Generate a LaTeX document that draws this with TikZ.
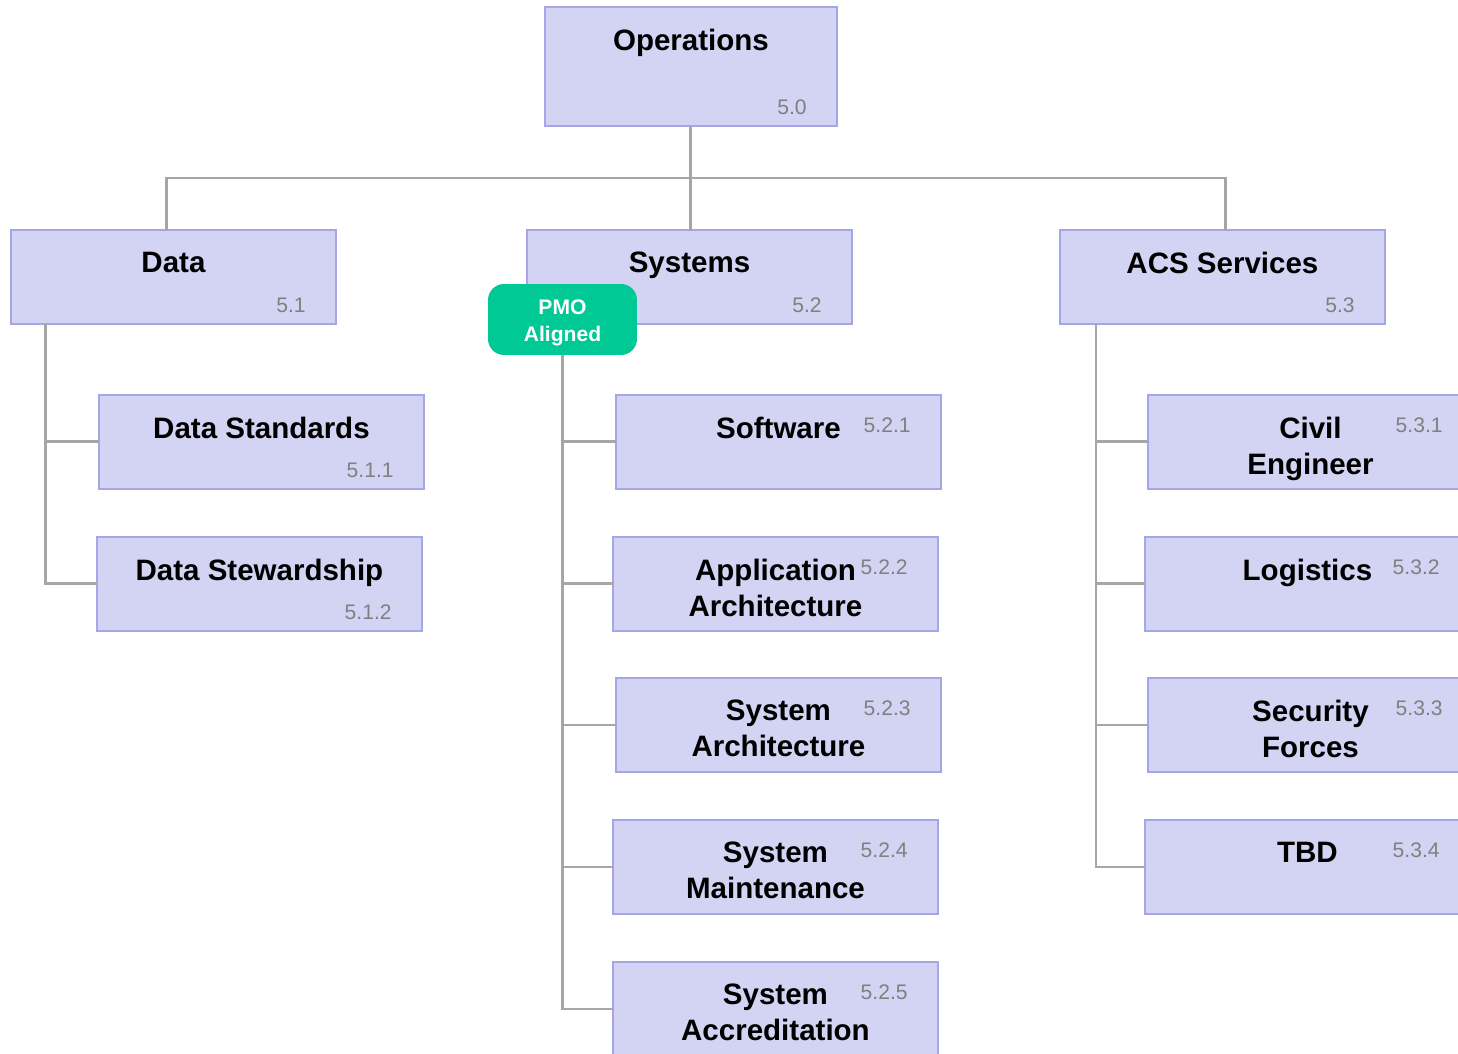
\documentclass[tikz,border=0pt]{standalone}
\usepackage{fontspec}
\setmainfont{Liberation Sans}
\usepackage{xcolor}
\usetikzlibrary{positioning}

\definecolor{boxfill}{RGB}{211,211,243}
\definecolor{boxline}{RGB}{165,165,232}
\definecolor{linkgray}{RGB}{166,166,166}
\definecolor{pmogreen}{RGB}{0,201,150}
\definecolor{numgray}{RGB}{128,128,128}

\begin{document}
\begin{tikzpicture}[x=0.02cm, y=-0.02cm,
  wbs/.style={draw=boxline, fill=boxfill, line width=1.6pt, anchor=north west,
    inner sep=0pt, outer sep=0pt, minimum width=6.5cm, minimum height=1.88cm},
  title/.style={font=\fontsize{16.8}{20.4}\selectfont\bfseries, align=center, inner sep=0pt},
  num/.style={font=\fontsize{12}{14}\selectfont, text=numgray, inner sep=0pt},
  link/.style={draw=linkgray, line width=1.7pt},
  pmo/.style={fill=pmogreen, rounded corners=0.32cm, inner sep=0pt,
    minimum width=2.98cm, minimum height=1.42cm},
  pmotext/.style={text=white, align=center, inner sep=0pt,
    font=\fontsize{12}{15.3}\selectfont\bfseries}]

\useasboundingbox (0,0) rectangle (1458,1054);
\clip (0,0) rectangle (1458,1054);

%% niveau 0
\node[wbs, minimum width=5.84cm, minimum height=2.38cm] (ops) at (545,7) {};
\node[title, below=0.44cm of ops.north] (opsT) {Operations};
\node[num, above left=0.22cm and 0.6cm of ops.south east] (opsN) {5.0};

%% niveau 1
\node[wbs] (data) at (11,230) {};
\node[title, below=0.44cm of data.north] (dataT) {Data};
\node[num, above left=0.22cm and 0.6cm of data.south east] (dataN) {5.1};
\node[wbs] (sys) at (527,230) {};
\node[title, below=0.44cm of sys.north] (sysT) {Systems};
\node[num, above left=0.22cm and 0.6cm of sys.south east] (sysN) {5.2};
\node[wbs] (acs) at (1060,230) {};
\node[title, below=0.44cm of acs.north] (acsT) {ACS Services};
\node[num, above left=0.22cm and 0.6cm of acs.south east] (acsN) {5.3};

%% Data
\node[wbs] (dstd) at (99,395) {};
\node[title, below=0.44cm of dstd.north] (dstdT) {Data Standards};
\node[num, above left=0.22cm and 0.6cm of dstd.south east] (dstdN) {5.1.1};
\node[wbs] (dstw) at (97,537) {};
\node[title, below=0.44cm of dstw.north] (dstwT) {Data Stewardship};
\node[num, above left=0.22cm and 0.6cm of dstw.south east] (dstwN) {5.1.2};

%% Systems
\node[wbs] (sw) at (616,395) {};
\node[title, below=0.44cm of sw.north] (swT) {Software};
\node[num, below left=0.44cm and 0.6cm of sw.north east] (swN) {5.2.1};
\node[wbs] (appa) at (613,537) {};
\node[title, below=0.44cm of appa.north] (appaT) {Application\\Architecture};
\node[num, below left=0.44cm and 0.6cm of appa.north east] (appaN) {5.2.2};
\node[wbs] (sysa) at (616,678) {};
\node[title, below=0.44cm of sysa.north] (sysaT) {System\\Architecture};
\node[num, below left=0.44cm and 0.6cm of sysa.north east] (sysaN) {5.2.3};
\node[wbs] (sysm) at (613,820) {};
\node[title, below=0.44cm of sysm.north] (sysmT) {System\\Maintenance};
\node[num, below left=0.44cm and 0.6cm of sysm.north east] (sysmN) {5.2.4};
\node[wbs] (sysacc) at (613,962) {};
\node[title, below=0.44cm of sysacc.north] (sysaccT) {System\\Accreditation};
\node[num, below left=0.44cm and 0.6cm of sysacc.north east] (sysaccN) {5.2.5};

%% ACS Services
\node[wbs] (civ) at (1148,395) {};
\node[title, below=0.44cm of civ.north] (civT) {Civil\\Engineer};
\node[num, below left=0.44cm and 0.6cm of civ.north east] (civN) {5.3.1};
\node[wbs] (log) at (1145,537) {};
\node[title, below=0.44cm of log.north] (logT) {Logistics};
\node[num, below left=0.44cm and 0.6cm of log.north east] (logN) {5.3.2};
\node[wbs] (sec) at (1148,678) {};
\node[title, below=0.44cm of sec.north] (secT) {Security\\Forces};
\node[num, below left=0.44cm and 0.6cm of sec.north east] (secN) {5.3.3};
\node[wbs] (tbd) at (1145,820) {};
\node[title, below=0.44cm of tbd.north] (tbdT) {TBD};
\node[num, below left=0.44cm and 0.6cm of tbd.north east] (tbdN) {5.3.4};

%% liens
\draw[link] (ops.south) -- (ops.south |- sys.north);
\draw[link] ([xshift=-0.13cm]data.north) -- ++(0,-52) -| ([xshift=0.07cm]acs.north);
\coordinate (dataTr) at ([xshift=0.7cm]data.south west);
\foreach \n in {dstd,dstw}
  \draw[link] (dataTr) |- (\n.west);
\coordinate (acsTr) at ([xshift=0.72cm]acs.south west);
\foreach \n in {civ,log,sec,tbd}
  \draw[link] (acsTr) |- (\n.west);

%% PMO
\node[pmo] (pmo) at (562.5,319.5) {};
\node[pmotext] (pmoT) at (562.5,322.5) {PMO\\Aligned};
\foreach \n in {sw,appa,sysa,sysm,sysacc}
  \draw[link] (pmo.south) |- (\n.west);

\end{tikzpicture}
\end{document}
